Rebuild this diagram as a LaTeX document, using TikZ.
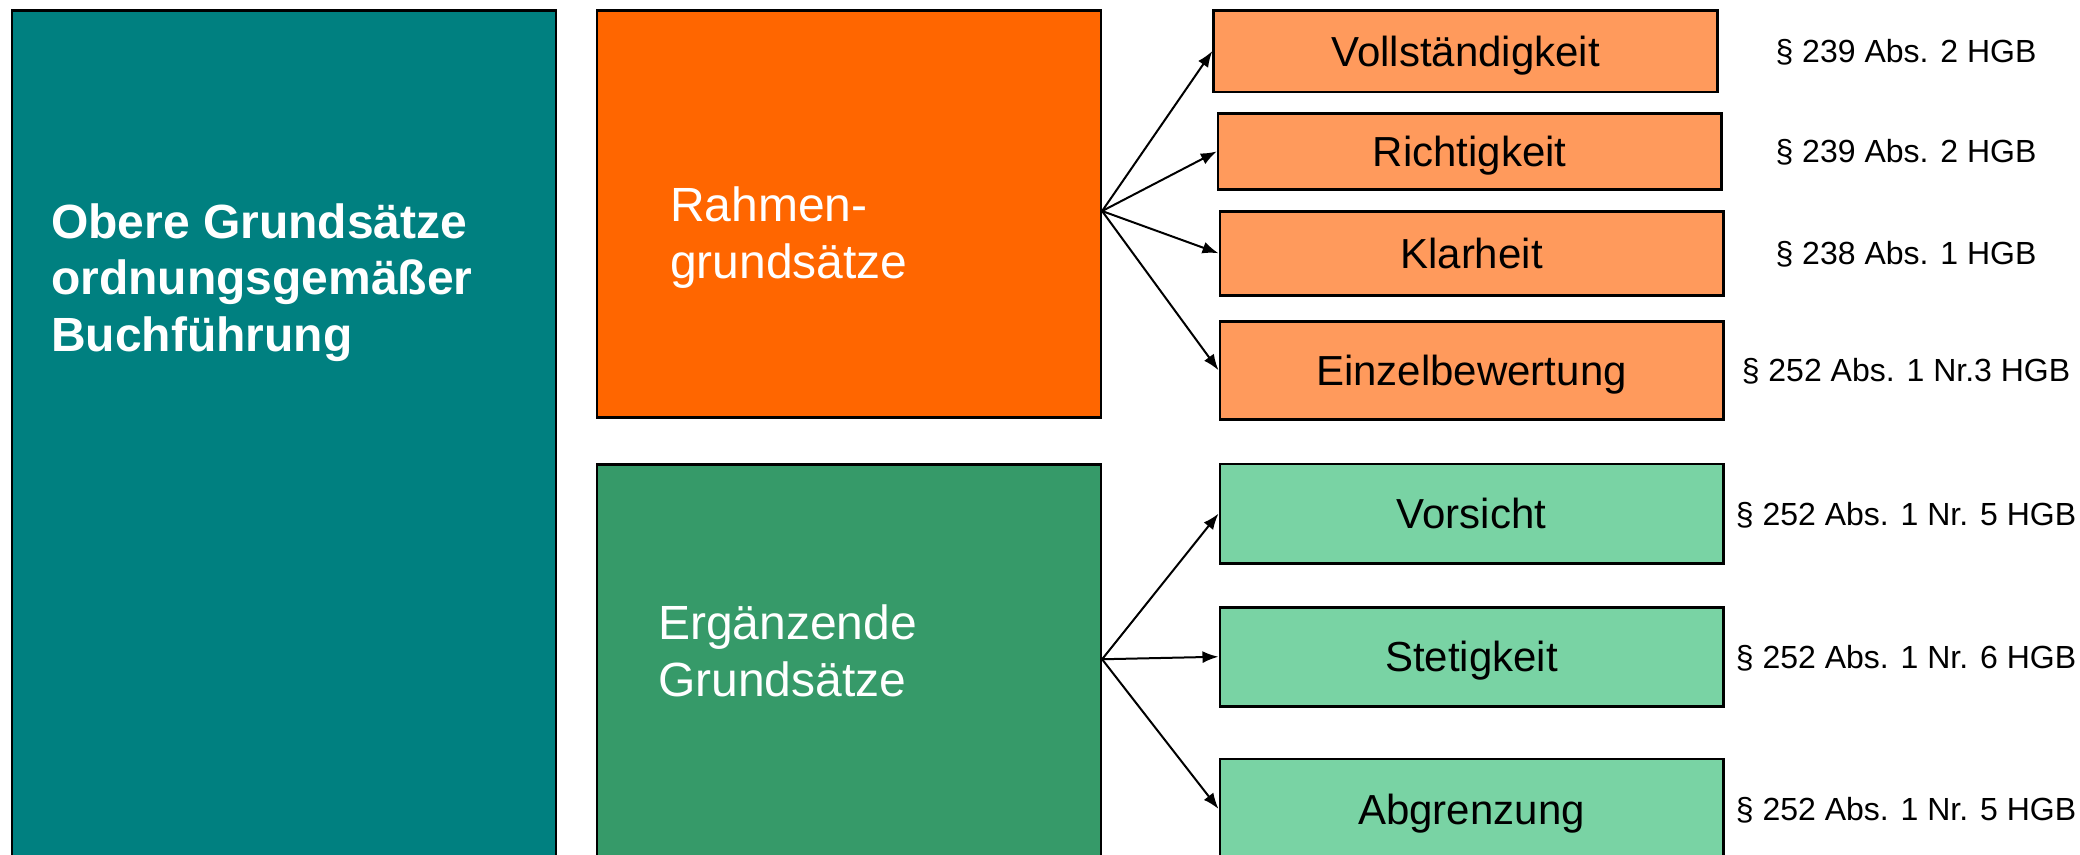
\documentclass[tikz,border=0pt]{standalone}
\usepackage{fontspec}
\setmainfont{Liberation Sans}
\usepackage{tikz}
\usetikzlibrary{arrows.meta, positioning, calc}
\definecolor{teal}{HTML}{008080}
\definecolor{rahmen}{HTML}{FF6600}
\definecolor{ergaenz}{HTML}{369A69}
\definecolor{rahmenlight}{HTML}{FF9A5C}
\definecolor{ergaenzlight}{HTML}{79D3A4}

\begin{document}
\begin{tikzpicture}[x=1pt, y=-1pt,
    bigbox/.style={rectangle, draw=black, line width=2.5pt, anchor=north west, inner sep=0pt},
    subbox/.style={rectangle, draw=black, line width=2.5pt, anchor=north west, inner sep=0pt, text depth=0pt, font=\fontsize{42}{50}\selectfont, text=black},
    bigtext/.style={anchor=base west, inner sep=0pt, align=left, text=white, font=\fontsize{48}{57}\selectfont},
    para/.style={anchor=center, inner sep=0pt, text depth=0pt, font=\fontsize{32}{38}\selectfont},
    arr/.style={line width=2pt, -{Latex[length=16pt, width=12pt]}},
]
    \useasboundingbox (0,0) rectangle (2080,854);
    \clip (0,0) rectangle (2080,854);

    \node[bigbox, fill=teal, minimum width=544pt, minimum height=862pt] (og) at (10.6,9.3) {};
    \node[bigtext, font=\fontsize{48}{56.5}\selectfont\bfseries] (ogt) at (51,351) {Obere Grundsätze\\ordnungsgemäßer\\Buchführung};

    \node[bigbox, fill=rahmen, minimum width=504pt, minimum height=407pt] (rg) at (595.6,9.3) {};
    \node[bigtext] (rgt) at (670,278) {Rahmen-\\grundsätze};

    \node[bigbox, fill=ergaenz, minimum width=504pt, minimum height=396pt] (eg) at (595.6,463) {};
    \node[bigtext, font=\fontsize{48}{57.5}\selectfont] (egt) at (658,696.5) {Ergänzende\\Grundsätze};

    \node[subbox, fill=rahmenlight, minimum width=504pt, minimum height=81.7pt] (r1) at (1212.3,9) {Vollständigkeit};
    \node[subbox, fill=rahmenlight, minimum width=503.4pt, minimum height=75.7pt] (r2) at (1216.8,112.3) {Richtigkeit};
    \node[subbox, fill=rahmenlight, minimum width=503.5pt, minimum height=84pt] (r3) at (1218.5,210) {Klarheit};
    \node[subbox, fill=rahmenlight, minimum width=503.5pt, minimum height=98pt] (r4) at (1218.5,320) {Einzelbewertung};

    \node[subbox, fill=ergaenzlight, minimum width=503.5pt, minimum height=99.3pt] (e1) at (1218.5,462.7) {Vorsicht};
    \node[subbox, fill=ergaenzlight, minimum width=503.5pt, minimum height=99pt] (e2) at (1218.5,606) {Stetigkeit};
    \node[subbox, fill=ergaenzlight, minimum width=503.5pt, minimum height=100pt] (e3) at (1218.5,757.7) {Abgrenzung};

    \coordinate (pcol) at (1906,0);
    \node[para] (p1) at (r1 -| pcol) {§ 239 Abs. 2 HGB};
    \node[para] (p2) at (r2 -| pcol) {§ 239 Abs. 2 HGB};
    \node[para] (p3) at (r3 -| pcol) {§ 238 Abs. 1 HGB};
    \node[para] (p4) at (r4 -| pcol) {§ 252 Abs. 1 Nr.3 HGB};
    \node[para] (p5) at (e1 -| pcol) {§ 252 Abs. 1 Nr. 5 HGB};
    \node[para] (p6) at (e2 -| pcol) {§ 252 Abs. 1 Nr. 6 HGB};
    \node[para] (p7) at (e3 -| pcol) {§ 252 Abs. 1 Nr. 5 HGB};

    \coordinate (rfan) at ([yshift=3pt]rg.east);
    \coordinate (efan) at ([yshift=3pt]eg.east);
    \foreach \t in {r1, r2, r3, r4} {
        \draw[arr] (rfan) -- (\t.west);
    }
    \foreach \t in {e1, e2, e3} {
        \draw[arr] (efan) -- (\t.west);
    }
\end{tikzpicture}
\end{document}
